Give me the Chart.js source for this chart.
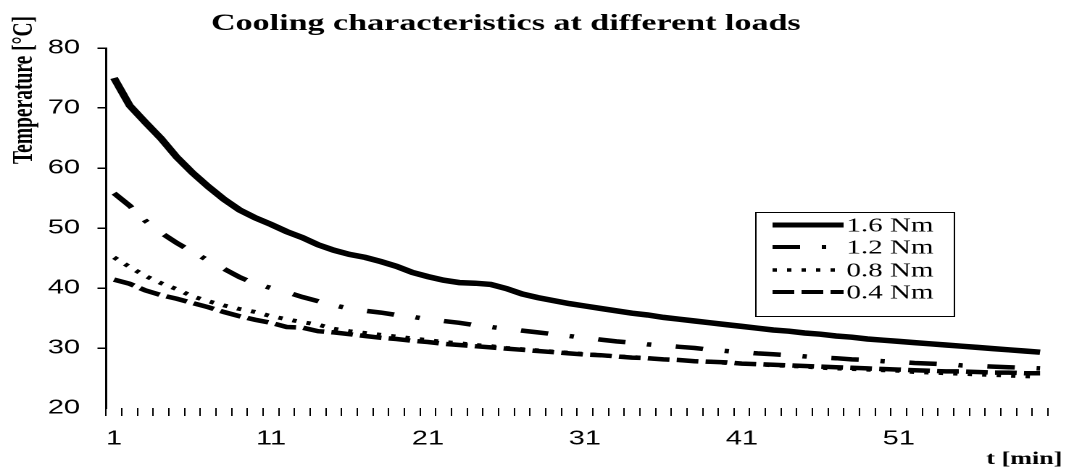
<!DOCTYPE html>
<html>
<head>
<meta charset="utf-8">
<title>Cooling characteristics at different loads</title>
<script src="https://cdn.jsdelivr.net/npm/chart.js@4.4.1/dist/chart.umd.min.js"></script>
<style>
  html, body { margin: 0; padding: 0; background: #fff; overflow: hidden; }
  /* the original picture is stretched sideways, so the chart is drawn narrow and widened */
  #coolingChart { display: block; transform: scaleX(1.4494); transform-origin: 0 0; }
</style>
</head>
<body>
<canvas id="coolingChart" width="741" height="469"></canvas>
<script>
// time axis [min]
const minutes = [1, 2, 3, 4, 5, 6, 7, 8, 9, 10,
    11, 12, 13, 14, 15, 16, 17, 18, 19, 20,
    21, 22, 23, 24, 25, 26, 27, 28, 29, 30,
    31, 32, 33, 34, 35, 36, 37, 38, 39, 40,
    41, 42, 43, 44, 45, 46, 47, 48, 49, 50,
    51, 52, 53, 54, 55, 56, 57, 58, 59, 60];
const shownTicks = ['1', '11', '21', '31', '41', '51'];
const yMin = 20, yMax = 80, yStep = 10;

// temperature [C] per load
const load16 = [75.0, 70.4, 67.6, 64.9, 61.8, 59.2, 56.9, 54.8, 53.0, 51.7,
    50.6, 49.4, 48.4, 47.2, 46.3, 45.6, 45.1, 44.4, 43.6, 42.6,
    41.9, 41.3, 40.9, 40.8, 40.6, 39.9, 39.0, 38.4, 37.9, 37.4,
    37.0, 36.6, 36.2, 35.8, 35.5, 35.1, 34.8, 34.5, 34.2, 33.9,
    33.6, 33.3, 33.0, 32.8, 32.5, 32.3, 32.0, 31.8, 31.5, 31.3,
    31.1, 30.9, 30.7, 30.5, 30.3, 30.1, 29.9, 29.7, 29.5, 29.3];
const load12 = [55.8, 53.7, 51.2, 49.2, 47.5, 46.0, 44.6, 43.2, 41.8, 40.7,
    40.0, 39.3, 38.5, 37.8, 37.1, 36.6, 36.2, 35.9, 35.5, 35.2,
    34.8, 34.5, 34.2, 33.8, 33.5, 33.2, 32.9, 32.6, 32.3, 32.0,
    31.7, 31.4, 31.1, 30.9, 30.6, 30.4, 30.2, 30.0, 29.7, 29.5,
    29.3, 29.1, 28.95, 28.8, 28.6, 28.4, 28.3, 28.1, 28.0, 27.8,
    27.7, 27.5, 27.4, 27.3, 27.1, 27.0, 26.9, 26.8, 26.7, 26.6];
const load08 = [45.1, 43.5, 42.0, 40.8, 39.8, 38.6, 37.8, 37.1, 36.5, 36.0,
    35.3, 34.8, 34.3, 33.9, 33.2, 32.8, 32.5, 32.2, 31.9, 31.6,
    31.3, 31.0, 30.8, 30.5, 30.3, 30.0, 29.8, 29.6, 29.4, 29.2,
    29.0, 28.8, 28.6, 28.5, 28.3, 28.1, 28.0, 27.8, 27.7, 27.5,
    27.4, 27.3, 27.1, 27.0, 26.9, 26.7, 26.6, 26.5, 26.4, 26.3,
    26.2, 26.0, 25.9, 25.8, 25.7, 25.6, 25.5, 25.4, 25.3, 25.2];
const load04 = [41.4, 40.7, 39.6, 38.8, 38.2, 37.5, 36.8, 36.0, 35.3, 34.7,
    34.2, 33.5, 33.4, 32.8, 32.6, 32.3, 32.0, 31.7, 31.5, 31.2,
    31.0, 30.7, 30.5, 30.3, 30.1, 29.9, 29.7, 29.5, 29.3, 29.1,
    28.9, 28.8, 28.6, 28.4, 28.3, 28.1, 28.0, 27.8, 27.7, 27.6,
    27.4, 27.3, 27.2, 27.1, 27.0, 26.9, 26.8, 26.7, 26.6, 26.5,
    26.4, 26.3, 26.2, 26.1, 26.1, 26.0, 25.9, 25.9, 25.8, 25.8];

// title, axis names and the boxed legend, drawn on top of the chart
const annotations = {
    id: 'annotations',
    afterDraw(chart) {
        const c = chart.ctx;
        c.save();
        c.fillStyle = '#000';
        c.strokeStyle = '#000';

        c.font = 'bold 23.5px "Liberation Serif"';
        c.textAlign = 'center';
        c.textBaseline = 'alphabetic';
        c.fillText('Cooling characteristics at different loads', 349, 30);

        c.save();
        c.translate(17, 90);
        c.rotate(-Math.PI / 2);
        c.font = 'bold 19.5px "Liberation Serif"';
        c.textBaseline = 'middle';
        c.fillText('Temperature [°C]', 0, 0);
        c.restore();

        c.font = 'bold 18px "Liberation Serif"';
        c.textAlign = 'right';
        c.fillText('t [min]', 733, 464);

        // legend
        c.lineWidth = 1;
        c.setLineDash([]);
        c.strokeRect(521.5, 212.5, 137, 104);
        const rows = [225, 247, 270, 292];
        c.font = '20px "Liberation Serif"';
        c.textAlign = 'left';
        c.textBaseline = 'middle';
        chart.data.datasets.forEach((ds, i) => {
            const y = rows[i];
            c.beginPath();
            c.lineWidth = ds.borderWidth - 0.5;
            c.setLineDash(ds.borderDash || []);
            c.moveTo(533, y);
            c.lineTo(582, y);
            c.stroke();
            c.setLineDash([]);
            c.fillText(ds.label, 584, y + 1);
        });
        c.restore();
    }
};

const ctx = document.getElementById('coolingChart').getContext('2d');
const coolingChart = new Chart(ctx, {
    type: 'line',
    data: {
        labels: minutes.map(String),
        datasets: [
            { label: '1.6 Nm', data: load16, borderColor: '#000', borderWidth: 5.5, borderDash: [] },
            { label: '1.2 Nm', data: load12, borderColor: '#000', borderWidth: 4.5, borderDash: [19, 15, 3, 17] },
            { label: '0.8 Nm', data: load08, borderColor: '#000', borderWidth: 4, borderDash: [3, 7] },
            { label: '0.4 Nm', data: load04, borderColor: '#000', borderWidth: 4.5, borderDash: [15, 5] }
        ]
    },
    options: {
        responsive: false,
        animation: false,
        devicePixelRatio: 2,
        layout: { padding: { top: 48, right: 18, bottom: 7, left: 21 } },
        elements: { point: { radius: 0 }, line: { tension: 0, fill: false } },
        plugins: {
            legend: { display: false },
            title: { display: false },
            tooltip: { enabled: false }
        },
        scales: {
            x: {
                type: 'category',
                offset: true,
                border: { display: false },
                grid: { offset: true, drawOnChartArea: false, drawTicks: true, tickLength: 8, color: '#000', lineWidth: 1 },
                ticks: {
                    autoSkip: false,
                    maxRotation: 0,
                    padding: 11,
                    color: '#000',
                    font: { family: '"Liberation Sans"', size: 20 },
                    callback: function(value) {
                        const label = this.getLabelForValue(value);
                        return shownTicks.includes(label) ? label : '';
                    }
                }
            },
            y: {
                min: yMin,
                max: yMax,
                border: { display: true, color: '#000', width: 1.5 },
                grid: {
                    drawOnChartArea: false,
                    tickLength: 6,
                    lineWidth: 1.5,
                    color: (c) => c.tick && c.tick.value === yMin ? 'rgba(0,0,0,0)' : '#000'
                },
                ticks: {
                    stepSize: yStep,
                    padding: 12,
                    color: '#000',
                    font: { family: '"Liberation Sans"', size: 20 }
                }
            }
        }
    },
    plugins: [annotations]
});
</script>
</body>
</html>
